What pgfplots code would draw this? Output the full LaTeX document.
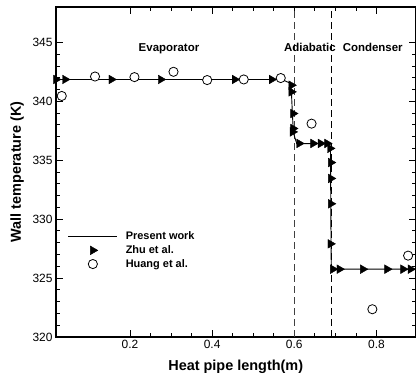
\documentclass[border=0pt]{standalone}
\usepackage{pgfplots}
\pgfplotsset{compat=1.18}
\usepackage{fontspec}
\setmainfont{Liberation Sans}

\pgfplotsset{
  lineleg/.style={legend image code/.code={\draw[##1] (0bp,0bp) -- (49bp,0bp);}},
  markleg/.style={legend image code/.code={\path (0bp,0bp) (49bp,0bp); \draw[##1] plot coordinates {(24.5bp,0bp)};}},
}

\begin{document}
\begin{tikzpicture}
\begin{axis}[
  scale only axis,
  width=359.6bp, height=330bp,
  xmin=0.02, xmax=0.895,
  ymin=320, ymax=348,
  xtick={0.2,0.4,0.6,0.8},
  ytick={320,325,330,335,340,345},
  minor x tick num=3,
  minor y tick num=4,
  tick align=inside,
  major tick length=7bp,
  minor tick length=4bp,
  every tick/.style={black, line width=0.8bp},
  axis line style={line width=1.5bp},
  /pgf/number format/assume math mode=true,
  xticklabel style={/pgf/number format/fixed, /pgf/number format/precision=1},
  tick label style={font=\fontsize{12}{14}\selectfont},
  xlabel={Heat pipe length(m)},
  ylabel={Wall temperature (K)},
  label style={font=\fontsize{14.5}{17}\selectfont\bfseries},
  xlabel style={at={(axis description cs:0.5,-0.091)}, anchor=center},
  ylabel style={at={(axis description cs:-0.108,0.5)}, anchor=center},
  legend cell align=left,
  legend style={draw=none, fill=none, inner sep=0pt, outer sep=0pt,
    at={(axis cs:0.049,329.04)}, anchor=north west,
    font=\fontsize{11}{13}\selectfont\bfseries,
    nodes={inner sep=1bp, text height=8.5bp, text depth=2bp},
    row sep=1.2bp, column sep=7bp},
]

% dashed section borders
\addplot[black!75, line width=0.9bp, dash pattern=on 7bp off 4bp, forget plot]
  coordinates {(0.6,320) (0.6,348)};
\addplot[black, line width=0.9bp, dash pattern=on 7bp off 4bp, forget plot]
  coordinates {(0.69,320) (0.69,348)};

% present work
\addplot[black, line width=0.9bp, no markers, lineleg]
  coordinates {
  (0.02,341.85) (0.57,341.85) (0.592,341.5) (0.596,338.5) (0.598,337.3)
  (0.606,336.4) (0.68,336.4) (0.688,336.0) (0.689,330) (0.69,325.75)
  (0.895,325.75)
};
\addlegendentry{Present work}

% Zhu et al.
\addplot[only marks, mark=triangle*, mark size=5bp,
  mark options={rotate=-90, fill=black, draw=black}, markleg]
  coordinates {
  (0.02,341.85) (0.042,341.85) (0.155,341.85) (0.275,341.85) (0.455,341.85)
  (0.545,341.85) (0.593,341.36) (0.593,340.8) (0.597,338.96) (0.597,337.69)
  (0.596,337.4) (0.612,336.42) (0.646,336.42) (0.664,336.42) (0.68,336.42)
  (0.687,336.0) (0.689,334.8) (0.689,333.45) (0.689,331.3) (0.688,327.9)
  (0.694,325.75) (0.71,325.75) (0.767,325.75) (0.826,325.75) (0.865,325.75)
  (0.883,325.75)
};
\addlegendentry{Zhu et al.}

% Huang et al.
\addplot[only marks, mark=*, mark size=4.6bp,
  mark options={fill=white, draw=black, line width=0.8bp}, markleg]
  coordinates {
  (0.034,340.45) (0.115,342.1) (0.211,342.05) (0.306,342.5) (0.388,341.8)
  (0.477,341.85) (0.567,341.97) (0.642,338.1) (0.79,322.35) (0.877,326.9)
};
\addlegendentry{Huang et al.}

\node[font=\fontsize{11.5}{13}\selectfont\bfseries, anchor=base] at (axis cs:0.295,344.26) {Evaporator};
\node[font=\fontsize{11.5}{13}\selectfont\bfseries, anchor=base] at (axis cs:0.638,344.26) {Adiabatic};
\node[font=\fontsize{11.5}{13}\selectfont\bfseries, anchor=base] at (axis cs:0.791,344.26) {Condenser};
\end{axis}
\pgfresetboundingbox
\path ([shift={(-56bp,-45bp)}]current axis.south west) rectangle ([shift={(0.5bp,7bp)}]current axis.north east);
\end{tikzpicture}
\end{document}
